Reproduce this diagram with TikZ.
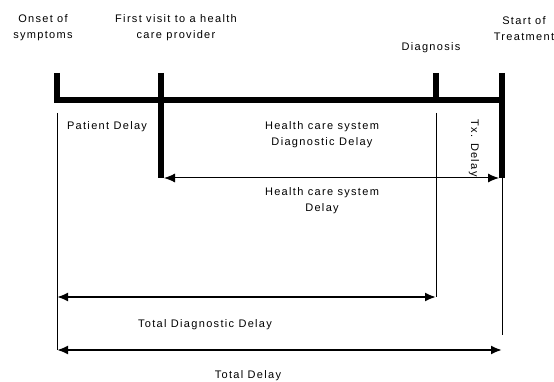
\documentclass[tikz,border=0pt]{standalone}
\usepackage{fontspec}
\setmainfont[LetterSpace=12]{Liberation Sans}
\usetikzlibrary{arrows.meta}

\begin{document}
\begin{tikzpicture}[x=1pt, y=-1pt, >={Latex[length=11pt,width=9pt]},
        txt/.style={font=\fontsize{11}{16}\selectfont, align=center, inner sep=0pt},
        thick bar/.style={line width=6pt},
        guide/.style={line width=1pt},
        span/.style={<->, line width=1pt},
        wide span/.style={<->, line width=2pt}]
        \useasboundingbox (0,0) rectangle (554,382);
        
        % events on the time line
        \coordinate (onset) at (57,73);
        \coordinate (visit) at (161,73);
        \coordinate (diag) at (436,73);
        \coordinate (start) at (502,73);
        \coordinate (barL) at (54,100);
        \coordinate (barR) at (505,100);
        
        \node (onsetlbl) [txt] at (43,28) {Onset of\\symptoms};
        \node (visitlbl) [txt] at (176,28) {First visit to a health\\care provider};
        \node (diaglbl) [txt] at (431,48) {Diagnosis};
        \node (startlbl) [txt] at (524,29) {Start of\\Treatment};
        
        \draw[thick bar] (barL) -- (barR);
        \draw[thick bar] (onset) -- (onset |- barL);
        \draw[thick bar] (visit) -- ++(0,105) coordinate (visitEnd);
        \draw[thick bar] (diag) -- (diag |- barL);
        \draw[thick bar] (start) -- ++(0,105) coordinate (startEnd);
        
        % delays
        \node (patient) [txt] at (107,127) {Patient Delay};
        \node (hcsdiag) [txt] at (322,135) {Health care system\\Diagnostic Delay};
        \node (txdelay) [txt, rotate=-90] at (474,148) {Tx. Delay};
        \node (hcs) [txt] at (322,201) {Health care system\\Delay};
        \node (totaldiag) [txt] at (205,325) {Total Diagnostic Delay};
        \node (total) [txt] at (248,376) {Total Delay};
        
        \coordinate (onsetLow) at (57,113);
        \coordinate (diagLow) at (436,113);
        \coordinate (totaldiagEnd) at (57,297);
        \coordinate (totalEnd) at (57,350);
        
        \draw[guide] (onsetLow) -- (totalEnd);
        \draw[guide] (diagLow) -- (diagLow |- totaldiagEnd);
        \draw[guide] (startEnd) -- ++(0,157);
        
        \draw[span] ([xshift=3pt]visitEnd) -- ([xshift=-3pt]startEnd);
        \draw[wide span] (totaldiagEnd) -- (totaldiagEnd -| diag);
        \draw[wide span] (totalEnd) -- (totalEnd -| start);
        
\end{tikzpicture}
\end{document}
